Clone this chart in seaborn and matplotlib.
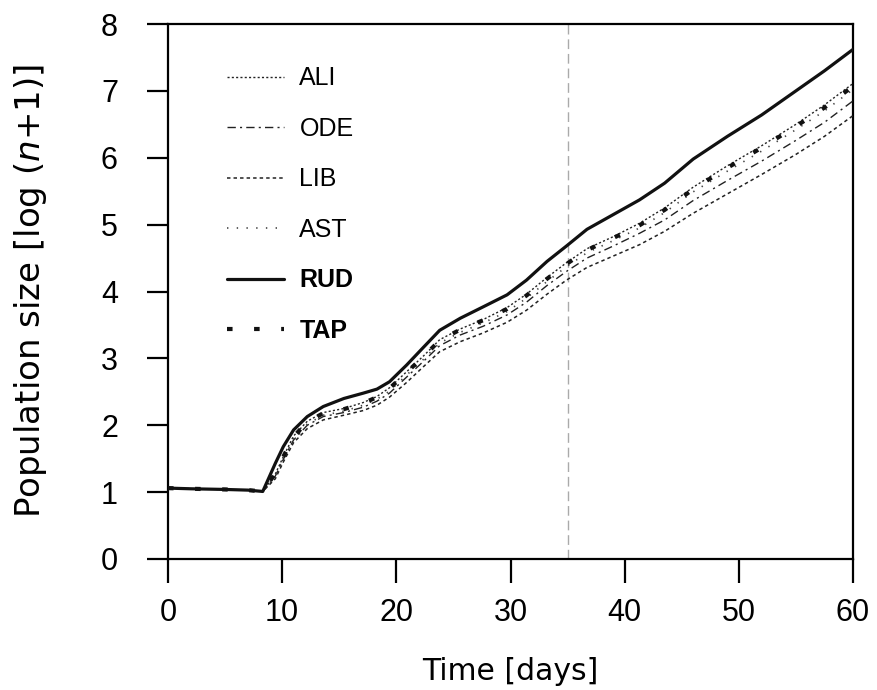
import matplotlib
matplotlib.use("Agg")
import matplotlib.pyplot as plt
import seaborn as sns
import numpy as np

# ---- data ----
time_days = [0, 2, 5, 7, 8.3, 9.4, 10.1, 11, 12.2, 13.6, 15.4, 17.1, 18.3, 19.4, 20.9, 22.4,
             23.8, 25.6, 27.6, 29.7, 31.4, 33.2, 34.9, 36.7, 39, 41.3, 43.5, 46, 49, 52, 55,
             57.5, 60]
ALI = [1.06, 1.05, 1.04, 1.03, 1.01, 1.27, 1.53, 1.84, 2.06, 2.19, 2.25, 2.34, 2.43, 2.56, 2.80,
       3.04, 3.28, 3.44, 3.58, 3.76, 3.96, 4.21, 4.43, 4.64, 4.82, 5.02, 5.25, 5.56, 5.88, 6.18,
       6.50, 6.79, 7.11]
ODE = [1.06, 1.05, 1.04, 1.03, 1.01, 1.24, 1.49, 1.78, 2.00, 2.13, 2.19, 2.27, 2.36, 2.48, 2.72,
       2.96, 3.19, 3.35, 3.48, 3.65, 3.84, 4.09, 4.30, 4.50, 4.68, 4.87, 5.07, 5.36, 5.66, 5.95,
       6.26, 6.53, 6.85]
LIB = [1.06, 1.05, 1.04, 1.03, 1.01, 1.20, 1.45, 1.74, 1.95, 2.08, 2.15, 2.22, 2.30, 2.42, 2.64,
       2.88, 3.10, 3.25, 3.38, 3.54, 3.72, 3.96, 4.17, 4.36, 4.53, 4.70, 4.90, 5.17, 5.46, 5.75,
       6.05, 6.32, 6.63]
AST = [1.06, 1.05, 1.04, 1.03, 1.01, 1.25, 1.50, 1.80, 2.02, 2.15, 2.21, 2.30, 2.39, 2.51, 2.75,
       2.99, 3.23, 3.39, 3.53, 3.70, 3.90, 4.15, 4.37, 4.58, 4.76, 4.95, 5.18, 5.49, 5.80, 6.10,
       6.42, 6.70, 7.02]
RUD = [1.06, 1.05, 1.04, 1.03, 1.01, 1.43, 1.68, 1.93, 2.13, 2.28, 2.40, 2.48, 2.54, 2.65, 2.90,
       3.17, 3.42, 3.60, 3.77, 3.95, 4.17, 4.45, 4.68, 4.93, 5.15, 5.37, 5.62, 5.98, 6.32, 6.64,
       7.00, 7.30, 7.62]
TAP = [1.06, 1.05, 1.04, 1.03, 1.01, 1.28, 1.53, 1.83, 2.05, 2.18, 2.24, 2.33, 2.42, 2.55, 2.79,
       3.03, 3.27, 3.43, 3.57, 3.74, 3.94, 4.19, 4.41, 4.62, 4.80, 4.99, 5.22, 5.53, 5.85, 6.15,
       6.47, 6.75, 7.07]
series_names = ["ALI", "ODE", "LIB", "AST", "RUD", "TAP"]
series_values = [ALI, ODE, LIB, AST, RUD, TAP]
x_ticks = [0, 10, 20, 30, 40, 50, 60]
y_ticks = [0, 1, 2, 3, 4, 5, 6, 7, 8]
marker_day = 35

sns.set_theme(style="ticks")
plt.rcParams["font.family"] = ["Liberation Sans", "DejaVu Sans"]
plt.rcParams["mathtext.fontset"] = "dejavusans"
plt.rcParams["lines.scale_dashes"] = False
for k in ["text.color", "axes.labelcolor", "xtick.color", "ytick.color", "axes.edgecolor"]:
    plt.rcParams[k] = "black"

styles = {
    "ALI": dict(lw=1.0, ls=(0, (1.5, 1.6)), color="#222222"),
    "ODE": dict(lw=1.0, ls=(0, (6, 3, 1.5, 3)), color="#222222"),
    "LIB": dict(lw=1.1, ls=(0, (2.5, 2.2)), color="#222222"),
    "AST": dict(lw=1.2, ls=(0, (1, 6)), color="#444444"),
    "RUD": dict(lw=2.3, ls="-", color="#111111"),
    "TAP": dict(lw=3.0, ls=(0, (4, 15.5)), color="#111111"),
}

fig = plt.figure(figsize=(8.77, 6.9), dpi=100)
ax = fig.add_axes([168 / 877, 1 - 559 / 690, 685 / 877, 535 / 690])

ax.axvline(marker_day, color="#aaaaaa", lw=1.0, ls=(0, (7, 3.5)), zorder=1)

for name, vals in zip(series_names, series_values):
    st = styles[name]
    sns.lineplot(x=time_days, y=vals, ax=ax, color=st["color"], linewidth=st["lw"],
                 linestyle=st["ls"], label=name, dash_capstyle="butt",
                 solid_joinstyle="round", zorder=3)

ax.set_xlim(0, 60)
ax.set_ylim(0, 8)
ax.set_xticks(x_ticks)
ax.set_yticks(y_ticks)
for sp in ax.spines.values():
    sp.set_visible(True)
    sp.set_linewidth(1.6)
    sp.set_color("black")
ax.tick_params(axis="x", length=17, width=1.6, pad=11, labelsize=22, direction="out")
ax.tick_params(axis="y", length=15, width=1.6, pad=21, labelsize=22, direction="out")
ax.set_xlabel("Time [days]", fontsize=21.5, labelpad=21, family="DejaVu Sans")
ax.set_ylabel(r"Population size [log ($\it{n}$+1)]", fontsize=24.5, labelpad=37, family="DejaVu Sans")

leg = ax.legend(loc="upper left", bbox_to_anchor=(0.086, 0.921), frameon=False,
                fontsize=18, handlelength=2.3, handletextpad=0.6, labelspacing=1.06,
                borderpad=0, borderaxespad=0)
for txt in leg.get_texts():
    if txt.get_text() in ("RUD", "TAP"):
        txt.set_fontweight("bold")

fig.savefig("out.png", dpi=100)
